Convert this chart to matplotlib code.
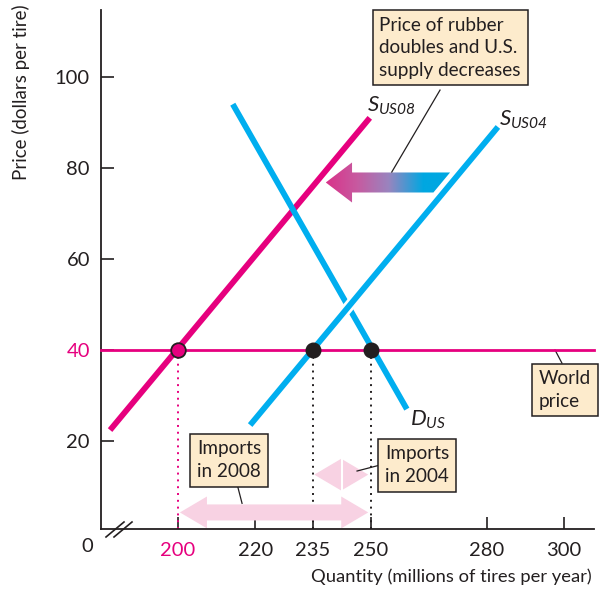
import matplotlib
matplotlib.use('Agg')
import matplotlib.pyplot as plt
import numpy as np
from matplotlib.patches import Polygon
from matplotlib.colors import LinearSegmentedColormap
import matplotlib.patheffects as pe

plt.rcParams['font.family'] = ['Lato', 'DejaVu Sans']
plt.rcParams['mathtext.fontset'] = 'custom'
plt.rcParams['mathtext.it'] = 'Lato:italic'
plt.rcParams['mathtext.rm'] = 'Lato:italic'

PINK = '#e6007e'
BLUE = '#00aeef'
BOX = '#fdebcc'
LPINK = '#f8d2e3'
DARK = '#231f20'

# ---- data ----
world_price = 40
supply08_q = [182.4, 249.7]
supply08_p = [22.4, 91.0]
supply04_q = [218.7, 282.9]
supply04_p = [23.5, 89.0]
demand_q = [214.2, 259.3]
demand_p = [94.0, 27.0]
q_supply08 = 200
q_supply04 = 235
q_demand = 250
shift_arrow_q = [270.5, 238.3]
shift_arrow_p = 76.8
imports08_p = 4.3
imports04_p = 12.6
xticks = [200, 220, 235, 250, 280, 300]
yticks = [20, 40, 60, 80, 100]

fig = plt.figure(figsize=(6.0, 5.89), dpi=100)
W, H = 600, 589
ax = fig.add_axes([101 / W, (H - 529) / H, (594 - 101) / W, (529 - 10) / H])
ax.set_xlim(180.05, 307.8)
ax.set_ylim(0.66, 114.7)
for s in ['top', 'right']:
    ax.spines[s].set_visible(False)
for s in ['left', 'bottom']:
    ax.spines[s].set_color(DARK)
    ax.spines[s].set_linewidth(1.3)

ax.set_xticks(xticks)
ax.set_yticks(yticks)
ax.tick_params(direction='in', length=9, width=1.2, color=DARK, labelsize=14.5,
               labelcolor=DARK)
ax.tick_params(axis='x', pad=9)
ax.tick_params(axis='y', pad=8)
ax.get_xticklabels()[0].set_color(PINK)
ax.get_yticklabels()[1].set_color(PINK)

# zero and axis break
ax.text(-14 / 493, -18 / 519, '0', transform=ax.transAxes, ha='center', va='center',
        fontsize=14.5, color=DARK)
for dx in [0, 8]:
    ax.plot([(106 + dx - 101) / 493, (124 + dx - 101) / 493], [-8 / 519, 7 / 519],
            transform=ax.transAxes, color=DARK, lw=1.2, clip_on=False)

# axis labels
fig.text(592 / W, 1 - 577 / H, 'Quantity (millions of tires per year)', ha='right',
         va='center', fontsize=13.2, color=DARK)
fig.text(21 / W, 1 - 92 / H, 'Price (dollars per tire)', rotation=90, ha='center',
         va='center', fontsize=13.5, color=DARK)

# dotted drop lines
ax.plot([q_supply08, q_supply08], [0.66, world_price], ls=(0, (1, 2.5)), color=PINK, lw=1.4)
ax.plot([q_supply04, q_supply04], [0.66, world_price], ls=(0, (1, 2.5)), color=DARK, lw=1.4)
ax.plot([q_demand, q_demand], [0.66, world_price], ls=(0, (1, 2.5)), color=DARK, lw=1.4)

# import arrows (light pink)
hl = 7.0
hw = 3.5
bw = 1.76


def dbl_arrow(x0, x1, y, zorder=2):
    pts = [(x0, y), (x0 + hl, y + hw), (x0 + hl, y + bw), (x1 - hl, y + bw),
           (x1 - hl, y + hw), (x1, y), (x1 - hl, y - hw), (x1 - hl, y - bw),
           (x0 + hl, y - bw), (x0 + hl, y - hw)]
    ax.add_patch(Polygon(pts, closed=True, fc=LPINK, ec='none', zorder=zorder))


dbl_arrow(q_supply08 + 0.5, q_demand - 0.7, imports08_p)
dbl_arrow(q_supply04 + 0.3, q_demand - 0.7, imports04_p)
mid04 = (q_supply04 + q_demand) / 2
ax.plot([mid04, mid04], [imports04_p - hw - 0.3, imports04_p + hw + 0.3], color='white',
        lw=1.5, zorder=2.5)

# gradient shift arrow
xr, xl = shift_arrow_q
yc = shift_arrow_p
slope = 1.02
bh = 2.2
ah = 4.4
hlen = 6.8
pts = [(xl, yc), (xl + hlen, yc + ah), (xl + hlen, yc + bh), (xr, yc + bh),
       (xr - 2 * bh / slope, yc - bh), (xl + hlen, yc - bh), (xl + hlen, yc - ah)]
poly = Polygon(pts, closed=True, fc='none', ec='none', zorder=3)
ax.add_patch(poly)
cmap = LinearSegmentedColormap.from_list('g', [(0, '#d9338a'), (0.25, '#c75aa0'),
                                              (0.5, '#9a84be'), (0.78, '#00a7e1'),
                                              (1, '#00a7e1')])
grad = np.linspace(0, 1, 256).reshape(1, -1)
im = ax.imshow(grad, cmap=cmap, extent=[xl, xr, yc - ah, yc + ah], aspect='auto',
               zorder=3, interpolation='bilinear')
im.set_clip_path(poly)

# curves
ax.plot(supply08_q, supply08_p, color=PINK, lw=4.2, solid_capstyle='butt', zorder=4)
ax.plot(demand_q, demand_p, color=BLUE, lw=4.2, solid_capstyle='butt', zorder=4)
ax.plot(supply04_q, supply04_p, color=BLUE, lw=4.2, solid_capstyle='butt', zorder=4.5,
        path_effects=[pe.Stroke(linewidth=8, foreground='white'), pe.Normal()])
ax.plot([180.05, 307.8], [world_price, world_price], color=PINK, lw=2.0, zorder=5,
        clip_on=False)

# points
ax.plot([q_supply08], [world_price], 'o', ms=10.5, mfc=PINK, mec=DARK, mew=1.3, zorder=6)
ax.plot([q_supply04, q_demand], [world_price, world_price], 'o', ms=10.5, mfc=DARK,
        mec=DARK, zorder=6)

# curve labels
ax.text(249.0, 93.6, r'$S_{US08}$', fontsize=16, color=DARK, ha='left', va='center')
ax.text(283.2, 90.5, r'$S_{US04}$', fontsize=16, color=DARK, ha='left', va='center')
ax.text(260.1, 24.6, r'$D_{US}$', fontsize=16, color=DARK, ha='left', va='center')

# callout boxes
bbox = dict(boxstyle='square,pad=0.35', fc=BOX, ec=DARK, lw=1.1)
ax.text(252.2, 106.4, 'Price of rubber\ndoubles and U.S.\nsupply decreases', fontsize=13.6,
        ha='left', va='center', color=DARK, bbox=bbox, linespacing=1.4, zorder=7)
ax.text(293.5, 31.2, 'World\nprice', fontsize=13.6, ha='left', va='center', color=DARK,
        bbox=bbox, linespacing=1.4, zorder=7)
ax.text(253.6, 14.7, 'Imports\nin 2004', fontsize=13.6, ha='left', va='center', color=DARK,
        bbox=bbox, linespacing=1.4, zorder=7)
ax.text(204.9, 15.8, 'Imports\nin 2008', fontsize=13.6, ha='left', va='center', color=DARK,
        bbox=bbox, linespacing=1.4, zorder=7)

# leader lines
lk = dict(color=DARK, lw=0.9, zorder=3.5)
ax.plot([267.9, 255.4], [97.1, 79.1], **lk)
ax.plot([299.5, 297.7], [37.1, 40.0], **lk)
ax.plot([252.3, 246.4], [14.7, 13.4], **lk)
ax.plot([215.5, 216.6], [9.9, 6.3], **lk)

fig.savefig('out.png', dpi=100)
